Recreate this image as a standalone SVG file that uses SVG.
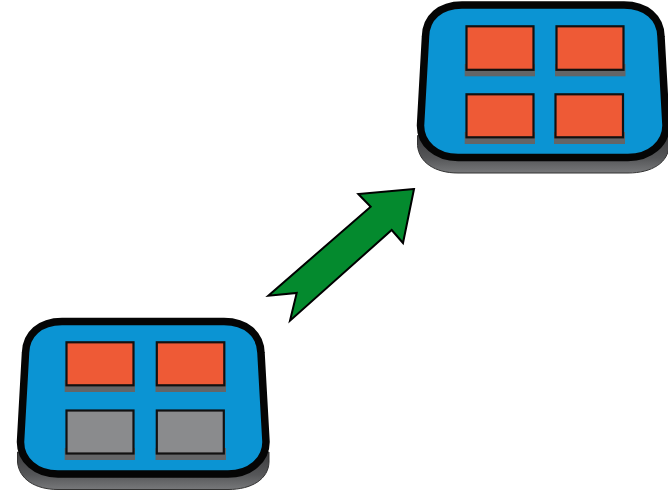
<svg xmlns="http://www.w3.org/2000/svg" xmlns:xlink="http://www.w3.org/1999/xlink" width="668" height="491" viewBox="0 0 668 491">
<style>
.base{fill:url(#baseFill);stroke:#333;stroke-width:1}
.board{fill:#0b94d3;stroke:#050505;stroke-width:7.500;stroke-linejoin:round}
.sh{fill:#646567}
.on{fill:#ee5a36;stroke:#111;stroke-width:2.200}
.off{fill:#8a8b8d;stroke:#111;stroke-width:2.200}
.arrow{fill:#048a2e;stroke:#000;stroke-width:2;stroke-linejoin:miter}
</style>
<defs>
<linearGradient id="baseFill" x1="0" y1="0" x2="0" y2="1">
<stop offset="0" stop-color="#3c3c3e"/>
<stop offset="0.6" stop-color="#555658"/>
<stop offset="1" stop-color="#77787a"/>
</linearGradient>
<g id="plate">
<path class="base" d="M17.500 452L17.500 462C19 479 35 489.500 58 489.500L228 489.500C252 489.500 268.500 479 269 462L269 452Z"/>
<path class="board" d="M62 321.500L224 321.500C246 321.500 260.500 334 261 353L266 442C266 460 250 474 228 474L58 474C36 474 20.500 460 20.500 442L25.500 353C26 334 40 321.500 62 321.500Z"/>
</g>
</defs>
<g id="device-bottom">
<use href="#plate" xlink:href="#plate"/>
<rect class="sh" x="64.700" y="380" width="70.300" height="12"/>
<rect class="sh" x="155.500" y="380" width="70.500" height="12"/>
<rect class="sh" x="64.700" y="448" width="70.300" height="12"/>
<rect class="sh" x="155.500" y="448" width="70.500" height="12"/>
<rect class="on" x="66.500" y="342.300" width="67" height="43"/>
<rect class="on" x="156.800" y="342.300" width="67.500" height="43"/>
<rect class="off" x="66.500" y="410.500" width="67" height="43"/>
<rect class="off" x="156.800" y="410.500" width="67" height="43"/>
</g>
<g id="device-top">
<use href="#plate" xlink:href="#plate" transform="translate(400 -316.500)"/>
<rect class="sh" x="464.700" y="64" width="70.300" height="12.300"/>
<rect class="sh" x="555" y="64" width="70.500" height="12.300"/>
<rect class="sh" x="464.700" y="132" width="70.300" height="12"/>
<rect class="sh" x="554" y="132" width="71" height="12"/>
<rect class="on" x="466.500" y="26.300" width="67" height="43.500"/>
<rect class="on" x="556.500" y="26.300" width="67" height="43.500"/>
<rect class="on" x="466.500" y="94.300" width="67" height="43"/>
<rect class="on" x="555.500" y="94.300" width="67.500" height="43"/>
</g>
<g id="connectors">
<path class="arrow" d="M414 189L358.300 194L370.700 206.700L268.300 295.700L296.700 293L290 320.700L391.700 230L403 243Z"/>
</g>
</svg>
